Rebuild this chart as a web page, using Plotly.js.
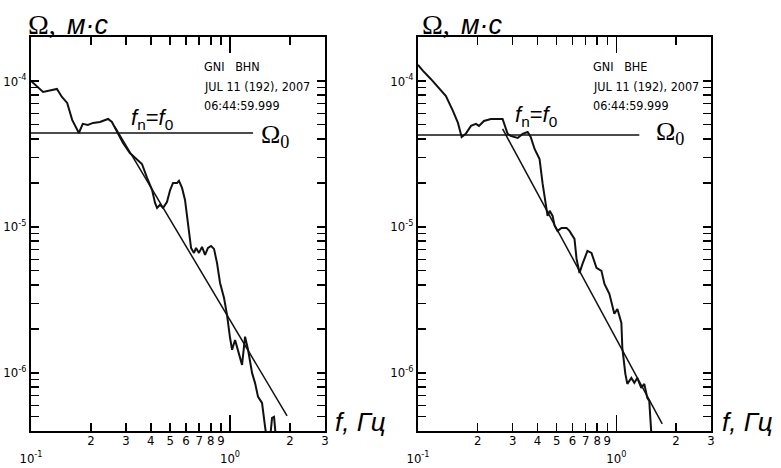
<!DOCTYPE html>
<html><head><meta charset="utf-8">
<script src="https://cdn.plot.ly/plotly-3.0.1.min.js"></script>
<style>html,body{margin:0;padding:0;background:#fff}#chart{width:781px;height:468px}</style>
</head><body><div id="chart"></div>
<script>
// ---- Data: station GNI, component BHN (left panel) ----
const freqBHN = [0.1,0.115,0.135,0.143,0.152,0.161,0.174,0.182,0.193,0.205,0.222,0.244,0.255,0.271,0.290,0.314,0.341,0.361,0.383,0.406,0.420,0.430,0.445,0.461,0.482,0.500,0.517,0.542,0.554,0.574,0.594,0.608,0.622,0.637,0.659,0.675,0.698,0.723,0.749,0.775,0.803,0.831,0.860,0.891,0.933,0.966,1.0,1.024,1.06,1.097,1.149,1.19,1.232,1.29,1.335,1.383,1.448,1.50,1.517,1.55,1.589,1.626,1.664,1.703,1.74];
const ampBHN = [1.0e-4,8.41e-5,8.81e-5,7.77e-5,7.07e-5,5.41e-5,4.40e-5,5.08e-5,5.00e-5,5.16e-5,5.24e-5,5.49e-5,5.24e-5,4.47e-5,3.76e-5,3.21e-5,2.92e-5,2.70e-5,2.17e-5,1.79e-5,1.46e-5,1.35e-5,1.42e-5,1.35e-5,1.48e-5,1.79e-5,2.00e-5,2.00e-5,2.07e-5,1.85e-5,1.53e-5,1.19e-5,1.0e-5,7.18e-6,6.64e-6,7.18e-6,6.64e-6,7.30e-6,6.43e-6,7.18e-6,7.41e-6,7.07e-6,5.67e-6,4.13e-6,3.26e-6,2.49e-6,1.74e-6,1.44e-6,1.68e-6,1.44e-6,1.135e-6,1.77e-6,1.44e-6,1.0e-6,8.55e-7,6.85e-7,6.23e-7,4.27e-7,3.82e-7,2.5e-7,3.6e-7,4.92e-7,5.0e-7,3.6e-7,2.5e-7];
const fitFreqBHN = [0.264, 1.934];
const fitAmpBHN = [4.84e-5, 5.08e-7];
const omegaFreqBHN = [0.1, 1.305];
const omegaAmpBHN = [4.40e-5, 4.40e-5];

// ---- Data: station GNI, component BHE (right panel) ----
const freqBHE = [0.1,0.106,0.116,0.1275,0.1383,0.15,0.159,0.166,0.174,0.185,0.196,0.203,0.215,0.233,0.267,0.283,0.293,0.318,0.337,0.357,0.370,0.387,0.410,0.425,0.440,0.450,0.461,0.477,0.488,0.505,0.529,0.561,0.580,0.615,0.630,0.652,0.675,0.715,0.749,0.794,0.841,0.871,0.922,0.977,1.012,1.06,1.072,1.11,1.136,1.19,1.232,1.275,1.335,1.383,1.432,1.465,1.50,1.52];
const ampBHE = [1.29e-4,1.171e-4,1.032e-4,8.96e-5,7.89e-5,6.23e-5,5.16e-5,4.13e-5,4.34e-5,4.92e-5,5.08e-5,4.92e-5,5.32e-5,5.49e-5,5.49e-5,4.34e-5,4.20e-5,4.07e-5,4.34e-5,4.47e-5,4.13e-5,3.42e-5,2.92e-5,1.97e-5,1.44e-5,1.19e-5,1.29e-5,1.19e-5,1.02e-5,9.39e-6,9.85e-6,9.85e-6,9.39e-6,8.28e-6,6.04e-6,4.84e-6,5.58e-6,6.85e-6,6.64e-6,5.24e-6,5.0e-6,4.07e-6,3.48e-6,2.54e-6,2.74e-6,2.20e-6,1.48e-6,9.85e-7,8.41e-7,9.24e-7,8.55e-7,9.24e-7,7.89e-7,8.41e-7,6.74e-7,6.43e-7,3.88e-7,3.0e-7];
const fitFreqBHE = [0.267, 1.703];
const fitAmpBHE = [4.69e-5, 4.48e-7];
const omegaFreqBHE = [0.1, 1.305];
const omegaAmpBHE = [4.27e-5, 4.27e-5];

// ---- Tick labels ----
const xDecadeVals = [0.1, 1];
const xDecadeText = ['10<sup>-1</sup>', '10<sup>0</sup>'];
const xMinorVals = [0.2,0.3,0.4,0.5,0.6,0.7,0.8,0.9,2,3];
const xMinorText = ['2','3','4','5','6','7','8','9','2','3'];
const yDecadeVals = [1e-6, 1e-5, 1e-4];
const yDecadeText = ['10<sup>-6</sup>', '10<sup>-5</sup>', '10<sup>-4</sup>'];
const yMinorVals = [2e-7,3e-7,4e-7,5e-7,6e-7,7e-7,8e-7,9e-7,2e-6,3e-6,4e-6,5e-6,6e-6,7e-6,8e-6,9e-6,2e-5,3e-5,4e-5,5e-5,6e-5,7e-5,8e-5,9e-5,2e-4];

const headerBHN = ['GNI&nbsp;&nbsp;&nbsp;BHN', 'JUL 11 (192), 2007', '06:44:59.999'];
const headerBHE = ['GNI&nbsp;&nbsp;&nbsp;BHE', 'JUL 11 (192), 2007', '06:44:59.999'];

const narrow = '"Liberation Sans Narrow", "DejaVu Sans Condensed", "Arial Narrow", sans-serif';
const W = 781, H = 468;
const px = v => v / W, py = v => 1 - v / H;

const yDomain = [1 - 431/H, 1 - 37/H];
const xDomL = [31/W, 325/W];
const xDomR = [418/W, 711/W];
const xRange = [-1, Math.log10(3)];
const yRange = [Math.log10(4e-7), Math.log10(2e-4)];

function mainX(dom, anchor) {
  return {domain: dom, anchor: anchor, type: 'log', range: xRange, showgrid: false, zeroline: false,
    showline: true, linecolor: '#000', linewidth: 2, mirror: 'allticks', ticks: 'inside', ticklen: 16,
    tickwidth: 1.5, tickcolor: '#000', tickmode: 'array', tickvals: xDecadeVals, ticktext: xDecadeText,
    tickfont: {family: narrow, size: 13, color: '#000'}, ticklabelstandoff: 14,
    minor: {ticks: 'inside', ticklen: 8, tickwidth: 1.5, tickcolor: '#000', tickmode: 'array', tickvals: xMinorVals, showgrid: false}};
}
function labelX(over, anchor) {
  return {overlaying: over, anchor: anchor, side: 'bottom', type: 'log', range: xRange, showgrid: false,
    zeroline: false, showline: false, ticks: '', tickmode: 'array', tickvals: xMinorVals, ticktext: xMinorText,
    tickfont: {family: narrow, size: 13, color: '#000'}};
}
function mainY(anchor) {
  return {domain: yDomain, anchor: anchor, type: 'log', range: yRange, showgrid: false, zeroline: false,
    showline: true, linecolor: '#000', linewidth: 2, mirror: 'allticks', ticks: 'inside', ticklen: 8,
    tickwidth: 1.5, tickcolor: '#000', tickmode: 'array', tickvals: yDecadeVals, ticktext: yDecadeText,
    tickfont: {family: narrow, size: 13, color: '#000'},
    minor: {ticks: 'inside', ticklen: 4, tickwidth: 1.2, tickcolor: '#000', tickmode: 'array', tickvals: yMinorVals, showgrid: false}};
}

const lineStyle = {color: '#111', width: 2};
const thin = {color: '#111', width: 1.5};
const traces = [
  {x: freqBHN, y: ampBHN, xaxis: 'x', yaxis: 'y', mode: 'lines', line: lineStyle},
  {x: fitFreqBHN, y: fitAmpBHN, xaxis: 'x', yaxis: 'y', mode: 'lines', line: thin},
  {x: omegaFreqBHN, y: omegaAmpBHN, xaxis: 'x', yaxis: 'y', mode: 'lines', line: thin},
  {x: freqBHE, y: ampBHE, xaxis: 'x2', yaxis: 'y2', mode: 'lines', line: lineStyle},
  {x: fitFreqBHE, y: fitAmpBHE, xaxis: 'x2', yaxis: 'y2', mode: 'lines', line: thin},
  {x: omegaFreqBHE, y: omegaAmpBHE, xaxis: 'x2', yaxis: 'y2', mode: 'lines', line: thin},
  {x: fitFreqBHN, y: fitAmpBHN, xaxis: 'x3', yaxis: 'y', mode: 'lines', line: {width: 0}, hoverinfo: 'skip'},
  {x: fitFreqBHE, y: fitAmpBHE, xaxis: 'x4', yaxis: 'y2', mode: 'lines', line: {width: 0}, hoverinfo: 'skip'}
];

const serif = '"Liberation Serif", "DejaVu Serif", serif';
const sans = '"Liberation Sans", Arial, sans-serif';
function ann(x, y, text, font, xanchor) {
  return {xref: 'paper', yref: 'paper', x: px(x), y: py(y), text: text, showarrow: false,
    xanchor: xanchor || 'left', yanchor: 'middle', font: font};
}
const annotations = [];
[26, 420].forEach(xo => {
  annotations.push(ann(xo, 24, 'Ω,', {family: serif, size: 28, color: '#000'}));
  annotations.push(ann(xo + 39, 25, '<i>м·с</i>', {family: sans, size: 27, color: '#000'}));
});
annotations.push(ann(333, 422, '<i>f, Гц</i>', {family: sans, size: 26, color: '#000'}));
annotations.push(ann(720, 422, '<i>f, Гц</i>', {family: sans, size: 26, color: '#000'}));
annotations.push(ann(129, 119, '<i>f</i><sub>n</sub>=<i>f</i><sub>0</sub>', {family: sans, size: 22, color: '#000'}));
annotations.push(ann(513, 116, '<i>f</i><sub>n</sub>=<i>f</i><sub>0</sub>', {family: sans, size: 22, color: '#000'}));
annotations.push(ann(259, 136, 'Ω<sub>0</sub>', {family: serif, size: 26, color: '#000'}));
annotations.push(ann(654, 133, 'Ω<sub>0</sub>', {family: serif, size: 26, color: '#000'}));
const headerY = [67, 86, 106];
[[202, headerBHN], [591, headerBHE]].forEach(([xo, lines]) => {
  lines.forEach((t, i) => annotations.push(ann(xo, headerY[i], t, {family: narrow, size: 12.5, color: '#000'})));
});

const layout = {
  width: W, height: H, margin: {l: 0, r: 0, t: 0, b: 0}, showlegend: false,
  paper_bgcolor: '#fff', plot_bgcolor: '#fff',
  xaxis: mainX(xDomL, 'y'), yaxis: mainY('x'),
  xaxis2: mainX(xDomR, 'y2'), yaxis2: mainY('x2'),
  xaxis3: labelX('x', 'y'), xaxis4: labelX('x2', 'y2'),
  annotations: annotations
};
Plotly.newPlot('chart', traces, layout, {staticPlot: true});
</script></body></html>
